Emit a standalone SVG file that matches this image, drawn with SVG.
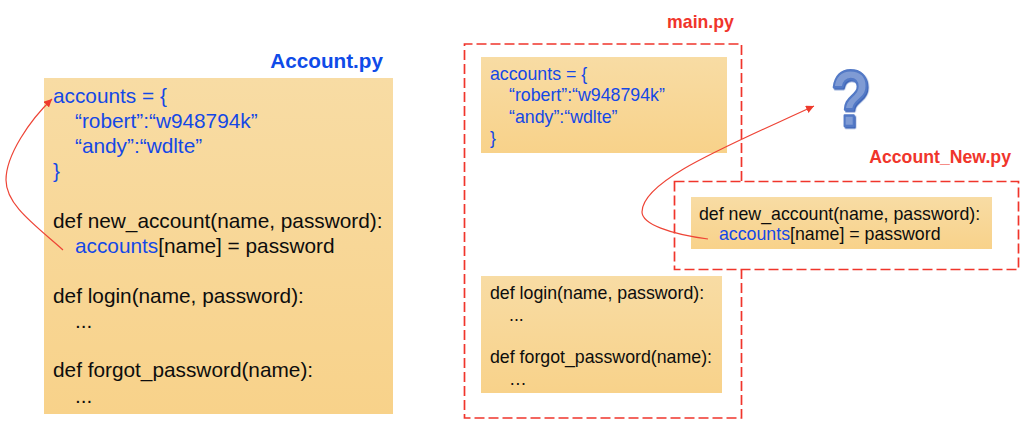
<svg xmlns="http://www.w3.org/2000/svg" width="1024" height="431" viewBox="0 0 1024 431">
<style>
text{font-family:"Liberation Sans",Arial,sans-serif;fill:#0d0d0d}
.big{font-size:20.8px}.small{font-size:17.75px}
.b{fill:#1448e6}
.title{font-weight:bold;font-size:20.7px}
.red{fill:#f0352b;font-size:17.7px}
.dash{fill:none;stroke:#f0352b;stroke-width:1.7;stroke-dasharray:10 4}
.conn{fill:none;stroke:#ee4436;stroke-width:1.2}
</style>
<defs>
<linearGradient id="g" x1="0" y1="0" x2="0" y2="1"><stop offset="0" stop-color="#f8dca4"/><stop offset="1" stop-color="#f8d28a"/></linearGradient>
<marker id="arr" markerUnits="userSpaceOnUse" markerWidth="9" markerHeight="9" refX="8" refY="4" orient="auto"><path d="M0 0L8 4L0 8z" fill="#ee3a2c"/></marker>
<filter id="sh" x="-30%" y="-30%" width="160%" height="160%"><feDropShadow dx="1.5" dy="1.5" stdDeviation="0.4" flood-color="#3f66b8"/></filter>
</defs>
<rect width="1024" height="431" fill="#fff"/>
<g id="account">
<text x="383" y="68" text-anchor="end" class="title" style="fill:#0f4be8">Account.py</text>
<rect x="44" y="78" width="349" height="336" fill="url(#g)"/>
<text class="big b" x="53" y="103">accounts = {</text>
<text class="big b" x="75" y="127.500">“robert”:“w948794k”</text>
<text class="big b" x="75" y="152.500">“andy”:“wdlte”</text>
<text class="big b" x="53" y="177.500">}</text>
<text class="big" x="53" y="228">def new_account(name, password):</text>
<text class="big" x="75" y="253"><tspan class="b">accounts</tspan>[name] = password</text>
<text class="big" x="53" y="303">def login(name, password):</text>
<text class="big" x="75" y="328">...</text>
<text class="big" x="53" y="377">def forgot_password(name):</text>
<text class="big" x="75" y="403">...</text>
</g>
<g id="main">
<text x="700.5" y="28" text-anchor="middle" class="title red">main.py</text>
<path class="dash" d="M741.5 181V44H464.5V418H741.5V270"/>
<rect x="481" y="57" width="246" height="96" fill="url(#g)"/>
<text class="small b" x="490" y="80">accounts = {</text>
<text class="small b" x="509" y="101">“robert”:“w948794k”</text>
<text class="small b" x="509" y="122.500">“andy”:“wdlte”</text>
<text class="small b" x="490" y="144">}</text>
<rect x="481" y="276" width="241" height="117" fill="url(#g)"/>
<text class="small" x="490" y="299">def login(name, password):</text>
<text class="small" x="509" y="320.500">...</text>
<text class="small" x="490" y="363">def forgot_password(name):</text>
<text class="small" x="509" y="384.500">…</text>
</g>
<g id="account-new">
<text x="1011" y="163" text-anchor="end" class="title red">Account_New.py</text>
<rect class="dash" x="674.5" y="181.500" width="344" height="88"/>
<rect x="691" y="197" width="301" height="52" fill="url(#g)"/>
<text class="small" x="699" y="220">def new_account(name, password):</text>
<text class="small" x="719" y="240"><tspan class="b">accounts</tspan>[name] = password</text>
</g>
<g id="question">
<text transform="translate(850.5 126) scale(.82 1)" text-anchor="middle" font-weight="bold" font-size="79" filter="url(#sh)" style="fill:#7f9bd4;stroke:#5279c6;stroke-width:2.500;stroke-linejoin:round">?</text>
</g>
<g id="connectors">
<path class="conn" marker-end="url(#arr)" d="M63 250C35 225 6 205 6 180C6 155 30 120 52 99"/>
<path class="conn" marker-end="url(#arr)" d="M708 239C670 234 642 224 642 212C642 180 730 145 814 106"/>
</g>
</svg>
